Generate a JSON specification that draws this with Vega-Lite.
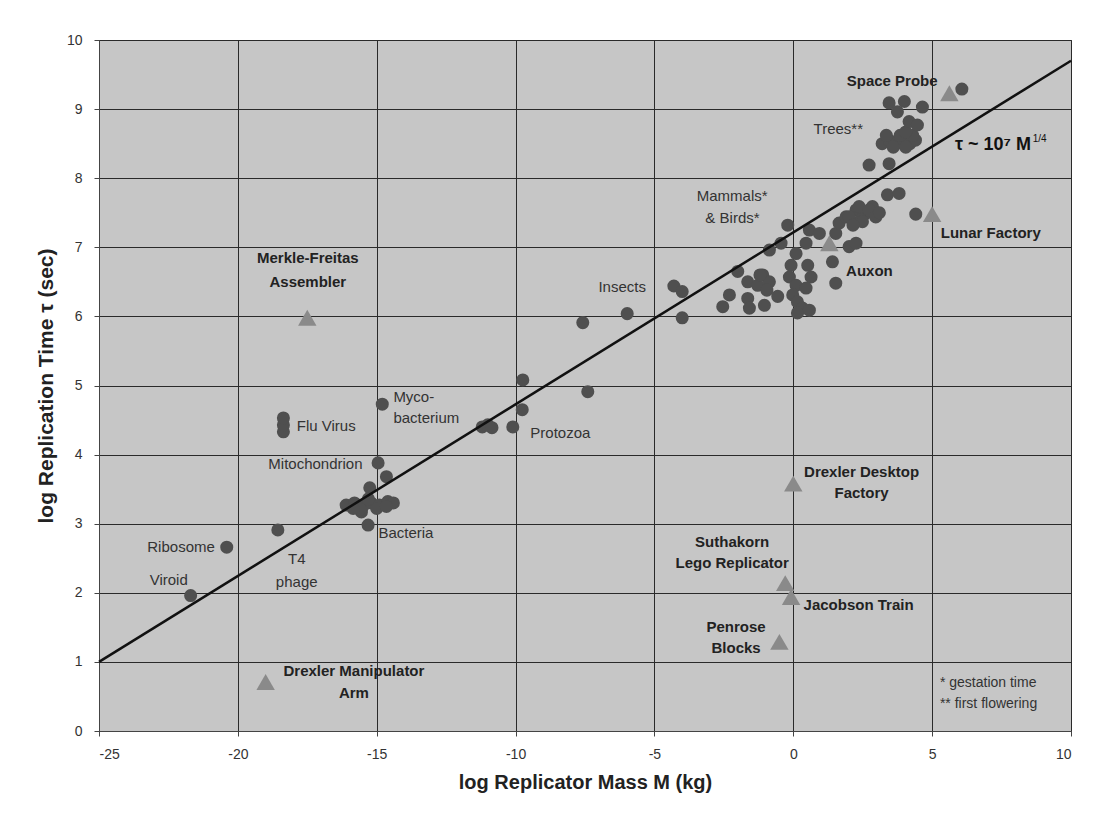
{
  "$schema": "https://vega.github.io/schema/vega-lite/v6.json",
  "width": 972,
  "height": 691,
  "autosize": "none",
  "padding": {"left": 99, "top": 40, "right": 24, "bottom": 92},
  "background": "white",
  "config": {
    "view": {"fill": "#c6c6c6", "stroke": "#333", "strokeWidth": 1},
    "axis": {
      "gridColor": "#2a2a2a", "gridWidth": 1, "gridOpacity": 1,
      "domainColor": "#444", "tickColor": "#444", "tickSize": 5,
      "labelFont": "Liberation Sans", "labelFontSize": 14, "labelColor": "#333",
      "titleFont": "Liberation Sans", "titleFontWeight": "bold", "titleColor": "#222"
    }
  },
  "datasets": {
    "organisms": [
      {"x": -21.7, "y": 1.96}, {"x": -20.4, "y": 2.66}, {"x": -18.56, "y": 2.91},
      {"x": -18.36, "y": 4.33}, {"x": -18.36, "y": 4.43}, {"x": -18.36, "y": 4.53},
      {"x": -14.8, "y": 4.73}, {"x": -14.95, "y": 3.88}, {"x": -14.65, "y": 3.68},
      {"x": -15.25, "y": 3.52}, {"x": -15.31, "y": 2.98}, {"x": -15.55, "y": 3.17},
      {"x": -16.1, "y": 3.27}, {"x": -15.8, "y": 3.3}, {"x": -15.5, "y": 3.25},
      {"x": -15.2, "y": 3.3}, {"x": -14.9, "y": 3.27}, {"x": -14.6, "y": 3.32},
      {"x": -14.4, "y": 3.3}, {"x": -15.6, "y": 3.21}, {"x": -15.0, "y": 3.22},
      {"x": -15.3, "y": 3.36}, {"x": -15.85, "y": 3.22}, {"x": -14.65, "y": 3.25},
      {"x": -11.2, "y": 4.4}, {"x": -11.0, "y": 4.43}, {"x": -10.85, "y": 4.39},
      {"x": -10.1, "y": 4.4}, {"x": -9.76, "y": 4.65}, {"x": -9.74, "y": 5.08},
      {"x": -7.4, "y": 4.91},
      {"x": -7.58, "y": 5.91}, {"x": -5.98, "y": 6.04}, {"x": -4.3, "y": 6.44},
      {"x": -4.0, "y": 6.36}, {"x": -4.0, "y": 5.98},
      {"x": -2.0, "y": 6.65}, {"x": -2.3, "y": 6.31}, {"x": -2.54, "y": 6.14},
      {"x": -1.64, "y": 6.5}, {"x": -1.64, "y": 6.26}, {"x": -1.58, "y": 6.12},
      {"x": -1.1, "y": 6.6}, {"x": -0.86, "y": 6.5}, {"x": -1.28, "y": 6.45},
      {"x": -1.2, "y": 6.6}, {"x": -0.95, "y": 6.38}, {"x": -1.04, "y": 6.16},
      {"x": -0.56, "y": 6.29}, {"x": -0.86, "y": 6.96}, {"x": -0.44, "y": 7.06},
      {"x": -0.2, "y": 7.32}, {"x": 0.1, "y": 6.91}, {"x": -0.08, "y": 6.74},
      {"x": -0.14, "y": 6.57}, {"x": 0.1, "y": 6.45}, {"x": -0.02, "y": 6.31},
      {"x": 0.15, "y": 6.21}, {"x": 0.33, "y": 6.12}, {"x": 0.15, "y": 6.05},
      {"x": 0.58, "y": 6.09}, {"x": 0.52, "y": 6.74}, {"x": 0.64, "y": 6.57},
      {"x": 0.46, "y": 6.41}, {"x": 0.46, "y": 7.06}, {"x": 0.58, "y": 7.25},
      {"x": 0.94, "y": 7.2}, {"x": 1.41, "y": 6.79}, {"x": 1.53, "y": 6.48},
      {"x": 2.01, "y": 7.01}, {"x": 2.26, "y": 7.06},
      {"x": 1.53, "y": 7.2}, {"x": 1.65, "y": 7.35}, {"x": 1.9, "y": 7.44},
      {"x": 2.26, "y": 7.54}, {"x": 2.61, "y": 7.49}, {"x": 2.43, "y": 7.4},
      {"x": 2.85, "y": 7.59}, {"x": 2.01, "y": 7.44}, {"x": 2.37, "y": 7.59},
      {"x": 2.73, "y": 7.54}, {"x": 2.97, "y": 7.44}, {"x": 2.49, "y": 7.37},
      {"x": 2.15, "y": 7.32}, {"x": 3.1, "y": 7.5},
      {"x": 3.39, "y": 7.76}, {"x": 3.81, "y": 7.78}, {"x": 4.41, "y": 7.48},
      {"x": 2.73, "y": 8.19}, {"x": 3.45, "y": 8.21},
      {"x": 3.2, "y": 8.5}, {"x": 3.45, "y": 8.55}, {"x": 3.7, "y": 8.5},
      {"x": 3.95, "y": 8.55}, {"x": 4.2, "y": 8.5}, {"x": 4.4, "y": 8.55},
      {"x": 3.35, "y": 8.62}, {"x": 3.85, "y": 8.62}, {"x": 4.3, "y": 8.62},
      {"x": 3.6, "y": 8.45}, {"x": 4.05, "y": 8.45},
      {"x": 4.05, "y": 8.67}, {"x": 4.17, "y": 8.82}, {"x": 4.47, "y": 8.77},
      {"x": 3.75, "y": 8.96}, {"x": 3.45, "y": 9.09}, {"x": 4.0, "y": 9.11},
      {"x": 4.65, "y": 9.03}, {"x": 6.07, "y": 9.29}
    ],
    "replicators": [
      {"name": "Merkle-Freitas Assembler", "x": -17.5, "y": 5.98},
      {"name": "Drexler Manipulator Arm", "x": -19.0, "y": 0.71},
      {"name": "Drexler Desktop Factory", "x": 0.0, "y": 3.58},
      {"name": "Suthakorn Lego Replicator", "x": -0.29, "y": 2.14},
      {"name": "Jacobson Train", "x": -0.08, "y": 1.94},
      {"name": "Penrose Blocks", "x": -0.5, "y": 1.29},
      {"name": "Auxon", "x": 1.3, "y": 7.06},
      {"name": "Lunar Factory", "x": 5.0, "y": 7.48},
      {"name": "Space Probe", "x": 5.62, "y": 9.23}
    ],
    "trend": [{"x": -25, "y": 1.0}, {"x": 10, "y": 9.7}],
    "orgLeft": [
      {"text": "Bacteria", "x": -14.94, "y": 2.87},
      {"text": "Flu Virus", "x": -17.88, "y": 4.41},
      {"text": "Myco-", "x": -14.4, "y": 4.84},
      {"text": "bacterium", "x": -14.4, "y": 4.53},
      {"text": "Protozoa", "x": -9.47, "y": 4.31}
    ],
    "orgRight": [
      {"text": "Ribosome", "x": -20.83, "y": 2.66},
      {"text": "Mitochondrion", "x": -15.51, "y": 3.87}
    ],
    "orgCenter": [
      {"text": "Viroid", "x": -22.49, "y": 2.19},
      {"text": "T4", "x": -17.88, "y": 2.49},
      {"text": "phage", "x": -17.88, "y": 2.16},
      {"text": "Insects", "x": -6.16, "y": 6.42},
      {"text": "Mammals*", "x": -2.2, "y": 7.74},
      {"text": "& Birds*", "x": -2.19, "y": 7.42},
      {"text": "Trees**", "x": 1.62, "y": 8.71}
    ],
    "notes": [
      {"text": "* gestation time", "x": 5.28, "y": 0.69},
      {"text": "** first flowering", "x": 5.28, "y": 0.39}
    ],
    "devLeft": [
      {"text": "Lunar Factory", "x": 5.31, "y": 7.21},
      {"text": "Auxon", "x": 1.9, "y": 6.66},
      {"text": "Jacobson Train", "x": 0.37, "y": 1.83}
    ],
    "devCenter": [
      {"text": "Space Probe", "x": 3.56, "y": 9.4},
      {"text": "Merkle-Freitas", "x": -17.48, "y": 6.85},
      {"text": "Assembler", "x": -17.48, "y": 6.5},
      {"text": "Drexler Desktop", "x": 2.46, "y": 3.75},
      {"text": "Factory", "x": 2.46, "y": 3.44},
      {"text": "Suthakorn", "x": -2.2, "y": 2.74},
      {"text": "Lego Replicator", "x": -2.2, "y": 2.43},
      {"text": "Penrose", "x": -2.06, "y": 1.51},
      {"text": "Blocks", "x": -2.06, "y": 1.2},
      {"text": "Drexler Manipulator", "x": -15.82, "y": 0.87},
      {"text": "Arm", "x": -15.82, "y": 0.55}
    ],
    "law": [
      {"text": "τ ~ 10⁷ M", "x": 5.82, "y": 8.48}
    ],
    "superscript": [
      {"text": "1/4", "x": 8.62, "y": 8.57}
    ]
  },
  "layer": [
    {
      "data": {"name": "organisms"},
      "mark": {"type": "point", "shape": "circle", "filled": true, "size": 170, "color": "#4f4f4f", "opacity": 1},
      "encoding": {
        "x": {
          "field": "x", "type": "quantitative",
          "scale": {"domain": [-25, 10], "nice": false, "zero": false},
          "axis": {"values": [-25, -20, -15, -10, -5, 0, 5, 10], "labelExpr": "datum.value + ''", "title": "log Replicator Mass M (kg)", "titleFontSize": 20, "grid": true, "labelPadding": 11, "titlePadding": 11}
        },
        "y": {
          "field": "y", "type": "quantitative",
          "scale": {"domain": [0, 10], "nice": false, "zero": true},
          "axis": {"values": [0, 1, 2, 3, 4, 5, 6, 7, 8, 9, 10], "labelExpr": "datum.value + ''", "title": "log Replication Time τ (sec)", "titleFontSize": 21, "grid": true, "labelPadding": 12, "titlePadding": 10}
        }
      }
    },
    {
      "data": {"name": "replicators"},
      "mark": {"type": "point", "shape": "triangle-up", "filled": true, "size": 340, "color": "#8a8a8a", "opacity": 1},
      "encoding": {
        "x": {"field": "x", "type": "quantitative"},
        "y": {"field": "y", "type": "quantitative"}
      }
    },
    {
      "data": {"name": "trend"},
      "mark": {"type": "line", "color": "#111", "strokeWidth": 2.5},
      "encoding": {
        "x": {"field": "x", "type": "quantitative"},
        "y": {"field": "y", "type": "quantitative"}
      }
    },
    {
      "data": {"name": "orgLeft"},
      "mark": {"type": "text", "align": "left", "baseline": "middle", "font": "Liberation Sans", "fontSize": 15, "color": "#333"},
      "encoding": {"x": {"field": "x", "type": "quantitative"}, "y": {"field": "y", "type": "quantitative"}, "text": {"field": "text"}}
    },
    {
      "data": {"name": "orgRight"},
      "mark": {"type": "text", "align": "right", "baseline": "middle", "font": "Liberation Sans", "fontSize": 15, "color": "#333"},
      "encoding": {"x": {"field": "x", "type": "quantitative"}, "y": {"field": "y", "type": "quantitative"}, "text": {"field": "text"}}
    },
    {
      "data": {"name": "orgCenter"},
      "mark": {"type": "text", "align": "center", "baseline": "middle", "font": "Liberation Sans", "fontSize": 15, "color": "#333"},
      "encoding": {"x": {"field": "x", "type": "quantitative"}, "y": {"field": "y", "type": "quantitative"}, "text": {"field": "text"}}
    },
    {
      "data": {"name": "notes"},
      "mark": {"type": "text", "align": "left", "baseline": "middle", "font": "Liberation Sans", "fontSize": 14, "color": "#333"},
      "encoding": {"x": {"field": "x", "type": "quantitative"}, "y": {"field": "y", "type": "quantitative"}, "text": {"field": "text"}}
    },
    {
      "data": {"name": "devLeft"},
      "mark": {"type": "text", "align": "left", "baseline": "middle", "font": "Liberation Sans", "fontSize": 15, "fontWeight": "bold", "color": "#222"},
      "encoding": {"x": {"field": "x", "type": "quantitative"}, "y": {"field": "y", "type": "quantitative"}, "text": {"field": "text"}}
    },
    {
      "data": {"name": "devCenter"},
      "mark": {"type": "text", "align": "center", "baseline": "middle", "font": "Liberation Sans", "fontSize": 15, "fontWeight": "bold", "color": "#222"},
      "encoding": {"x": {"field": "x", "type": "quantitative"}, "y": {"field": "y", "type": "quantitative"}, "text": {"field": "text"}}
    },
    {
      "data": {"name": "law"},
      "mark": {"type": "text", "align": "left", "baseline": "middle", "font": "Liberation Sans", "fontSize": 18, "fontWeight": "bold", "color": "#111"},
      "encoding": {"x": {"field": "x", "type": "quantitative"}, "y": {"field": "y", "type": "quantitative"}, "text": {"field": "text"}}
    },
    {
      "data": {"name": "superscript"},
      "mark": {"type": "text", "align": "left", "baseline": "middle", "font": "Liberation Sans", "fontSize": 10, "color": "#111"},
      "encoding": {"x": {"field": "x", "type": "quantitative"}, "y": {"field": "y", "type": "quantitative"}, "text": {"field": "text"}}
    }
  ]
}
